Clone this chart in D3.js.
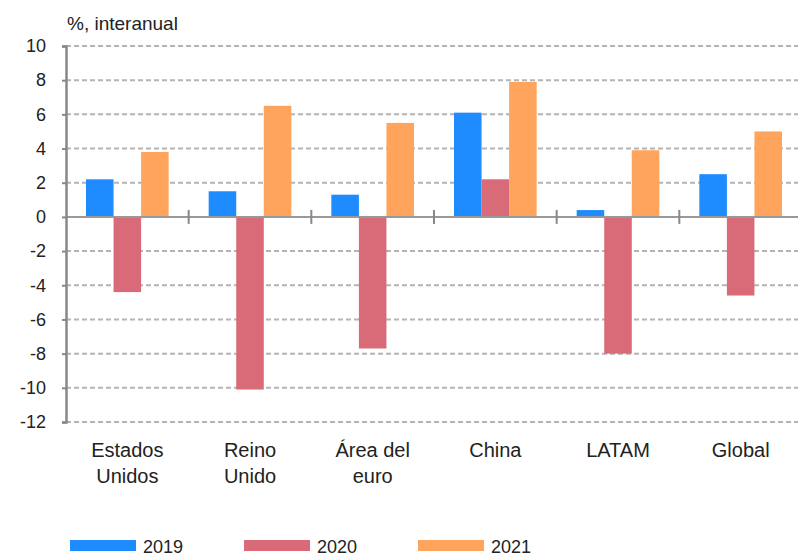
<!DOCTYPE html>
<html>
<head>
<meta charset="utf-8">
<script src="https://cdnjs.cloudflare.com/ajax/libs/d3/7.8.5/d3.min.js"></script>
<style>
  body { margin: 0; background: #fff; }
  svg text { font-family: "Liberation Sans", Arial, sans-serif; fill: #222; }
</style>
</head>
<body>
<div id="chart"></div>
<script>
// data
var categories = [["Estados", "Unidos"], ["Reino", "Unido"], ["Área del", "euro"], ["China"], ["LATAM"], ["Global"]];
var years = ["2019", "2020", "2021"];
var values2019 = [2.2, 1.5, 1.3, 6.1, 0.4, 2.5];
var values2020 = [-4.4, -10.1, -7.7, 2.2, -8.0, -4.6];
var values2021 = [3.8, 6.5, 5.5, 7.9, 3.9, 5.0];
var yTicks = [10, 8, 6, 4, 2, 0, -2, -4, -6, -8, -10, -12];
var colors = ["#1e8cff", "#d96b78", "#ffa45c"];

var svgWidth = 798;
var svgHeight = 558;
var margin = { top: 46, right: -4, bottom: 136, left: 66 };
var width = svgWidth - margin.left - margin.right;
var height = svgHeight - margin.top - margin.bottom;

var svg = d3.select("#chart").append("svg").attr("width", svgWidth).attr("height", svgHeight);
var chartGroup = svg.append("g").attr("transform", `translate(${margin.left}, ${margin.top})`);

var series = [values2019, values2020, values2021];

// scales
var x0 = d3.scaleBand().domain(d3.range(categories.length)).range([0, width]);
var x1 = d3.scaleBand().domain(d3.range(years.length)).range([20, x0.bandwidth() - 20]);
var y = d3.scaleLinear().domain([-12, 10]).range([height, 0]);

// gridlines
chartGroup.selectAll(".grid").data(yTicks.filter(d => d !== 0)).enter().append("line")
  .attr("x1", 0).attr("x2", width)
  .attr("y1", d => y(d)).attr("y2", d => y(d))
  .attr("stroke", "#b4b4b4").attr("stroke-width", 2).attr("stroke-dasharray", "5,3");

// bars
series.forEach(function(vals, s) {
  chartGroup.selectAll(".bar" + s).data(vals).enter().append("rect")
    .attr("x", (d, i) => x0(i) + x1(s))
    .attr("y", d => y(Math.max(0, d)))
    .attr("width", x1.bandwidth())
    .attr("height", d => Math.abs(y(d) - y(0)))
    .attr("fill", colors[s]);
});

// zero line and category ticks
chartGroup.append("line").attr("x1", 0).attr("x2", width).attr("y1", y(0)).attr("y2", y(0))
  .attr("stroke", "#999").attr("stroke-width", 2);
chartGroup.selectAll(".ctick").data(d3.range(1, categories.length)).enter().append("line")
  .attr("x1", d => x0(d)).attr("x2", d => x0(d))
  .attr("y1", y(0) - 7).attr("y2", y(0) + 7)
  .attr("stroke", "#888").attr("stroke-width", 2);

// y axis (plain hyphen for negatives, like the original)
var leftAxis = d3.axisLeft(y).tickValues(yTicks).tickSize(4).tickPadding(16).tickFormat(d => String(d));
var yAxis = chartGroup.append("g").call(leftAxis);
yAxis.select(".domain").attr("stroke", "#888").attr("stroke-width", 2.5);
yAxis.selectAll(".tick line").attr("stroke", "#888").attr("stroke-width", 2);
yAxis.selectAll(".tick text").style("font-size", "18px").attr("fill", "#222")
  .style("font-family", "'Liberation Sans', Arial, sans-serif");

// category labels
var labels = chartGroup.selectAll(".cat").data(categories).enter().append("text")
  .attr("text-anchor", "middle").style("font-size", "20px")
  .attr("transform", (d, i) => `translate(${x0(i) + x0.bandwidth() / 2}, ${height + 35})`);
labels.selectAll("tspan").data(d => d).enter().append("tspan")
  .attr("x", 0).attr("y", (d, i) => i * 26).text(d => d);

// axis title
svg.append("text").attr("x", 67).attr("y", 30).style("font-size", "19px").text("%, interanual");

// legend
var legend = svg.selectAll(".legend").data(years).enter().append("g")
  .attr("transform", (d, i) => `translate(${70 + i * 174}, 540)`);
legend.append("rect").attr("width", 66).attr("height", 11).attr("fill", (d, i) => colors[i]);
legend.append("text").attr("x", 73).attr("y", 13).style("font-size", "18px").text(d => d);
</script>
</body>
</html>
